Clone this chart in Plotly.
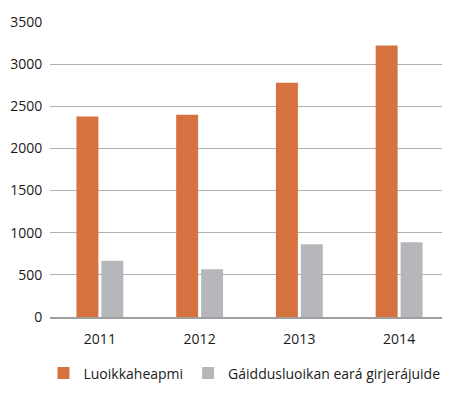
import plotly.graph_objects as go

years = ["2011", "2012", "2013", "2014"]
luoikkaheapmi = [2378, 2401, 2778, 3222]
gaiddusluoikan = [666, 567, 864, 888]

series_names = ["Luoikkaheapmi", "Gáiddusluoikan eará girjerájuide"]
orange = "#D57240"
grey = "#B6B7BA"

fig = go.Figure()
fig.add_trace(go.Bar(x=years, y=luoikkaheapmi, name=series_names[0],
                     marker=dict(color=orange, line=dict(width=0))))
fig.add_trace(go.Bar(x=years, y=gaiddusluoikan, name=series_names[1],
                     marker=dict(color=grey, line=dict(width=0))))

# page body adds 8px, so the figure is a bit smaller than the window
fig.update_layout(
    width=442, height=393,
    margin=dict(l=42, r=1, t=14, b=84, autoexpand=False),
    paper_bgcolor="white", plot_bgcolor="white",
    font=dict(family="Open Sans", size=14, color="#1a1a1a"),
    barmode="group", bargap=0.5, bargroupgap=0.12,
    showlegend=True,
    legend=dict(orientation="h", xref="container", yref="container",
                x=0.535, xanchor="center", y=0.07, yanchor="middle",
                font=dict(size=14), itemwidth=30),
)
fig.update_yaxes(range=[0, 3500], dtick=500, showgrid=True, gridcolor="#B0B0B0",
                 gridwidth=1, zeroline=False, showline=False,
                 ticks="outside", ticklen=4, tickcolor="rgba(0,0,0,0)")
fig.update_xaxes(showline=True, linecolor="#A0A0A0", linewidth=2, tickangle=0,
                 ticks="outside", ticklen=8, tickcolor="rgba(0,0,0,0)")

fig.write_html("out.html")
